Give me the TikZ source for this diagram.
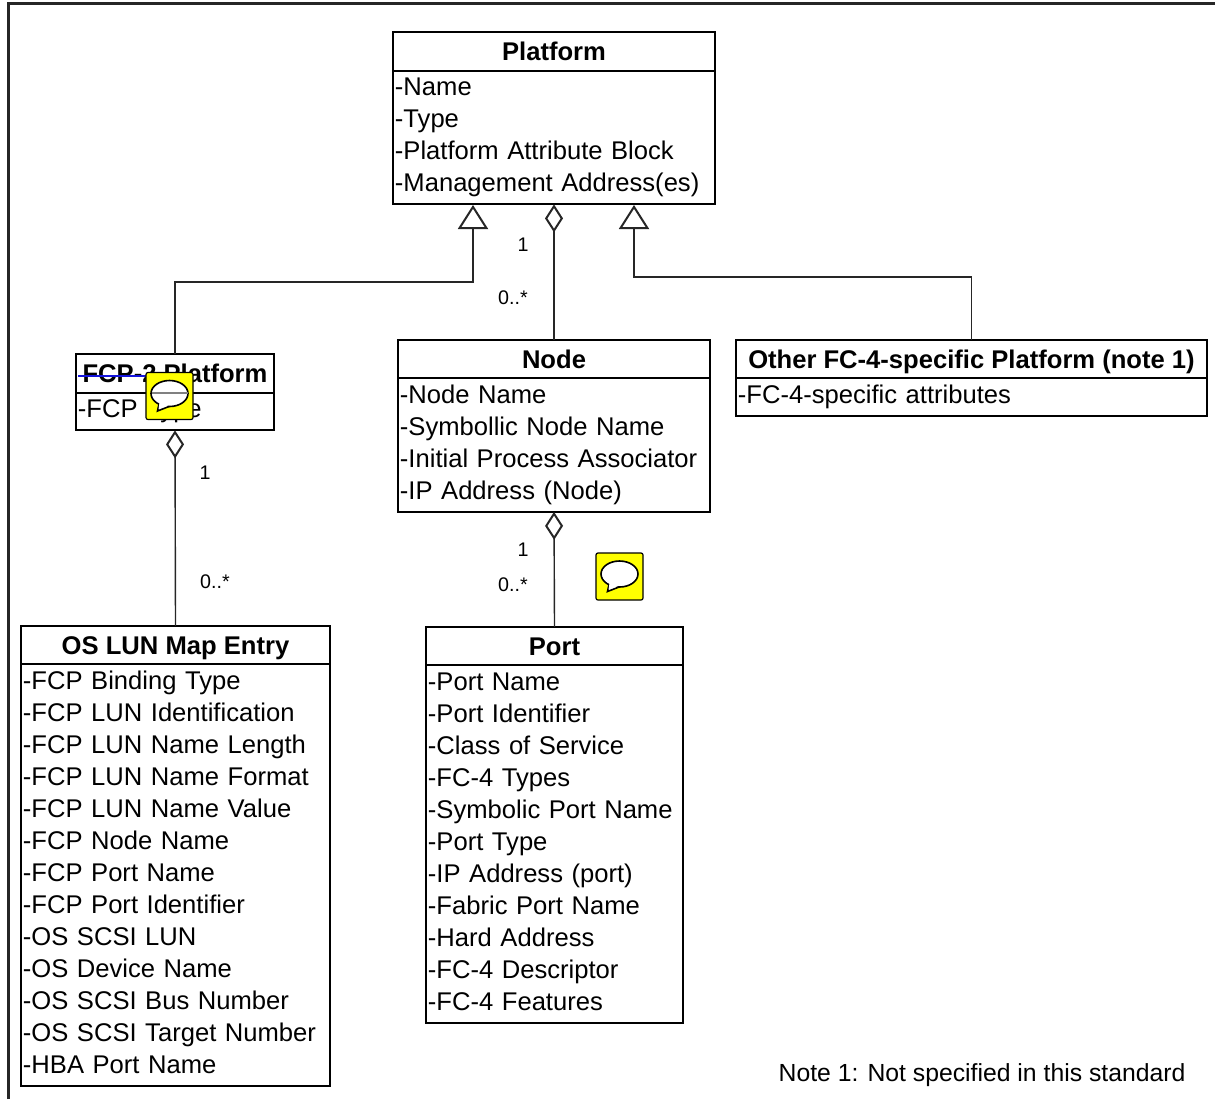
\documentclass[tikz,border=0pt]{standalone}
\usepackage{fontspec}
\setmainfont{Liberation Sans}
\usetikzlibrary{arrows.meta, positioning}
\definecolor{noteyellow}{RGB}{255, 255, 0}
\definecolor{strikeblue}{RGB}{20, 20, 220}
\newcommand{\classfont}{\fontsize{18.2}{22.76}\selectfont}
\newcommand{\labelfont}{\fontsize{14}{17}\selectfont}
\tikzset{
  classtitle/.style={draw, line width=0.05cm, outer sep=0pt, inner sep=0pt, minimum width=#1, minimum height=0.9625cm, text height=0.46cm, text depth=0pt, font=\classfont\bfseries},
  classbody/.style={draw, line width=0.05cm, outer sep=0pt, inner xsep=0.05cm, inner ysep=0.07cm, text width=#1, align=left, font=\classfont, execute at begin node=\strut, execute at end node=\strut},
  link/.style={line width=0.035cm, black!85},
  gentip/.style={link, {Triangle[open, fill=white, length=0.6cm, width=0.75cm, line width=0.05cm]}-},
  aggtip/.style={link, {Diamond[open, fill=white, length=0.7cm, width=0.45cm, line width=0.05cm]}-},
  multlabel/.style={font=\labelfont, inner sep=0pt},
  noteicon/.style={draw, fill=noteyellow, rounded corners=0.05cm, line width=0.03cm, minimum size=1.175cm, inner sep=0pt, outer sep=0pt},
  bubble/.style={draw, fill=white, line width=0.04cm},
}
\begin{document}
\begin{tikzpicture}[x=0.025cm, y=-0.025cm]
  \useasboundingbox (0, 0) rectangle (1215, 1099);

  % Outer frame
  \draw[line width=0.08cm, black!85] (8.5, 1099) -- (8.5, 3.5) -- (1215, 3.5);

  % Platform
  \node[classtitle=8.05cm] (platform) at (554, 51.5) {Platform};
  \node[classbody=7.95cm, below=0pt of platform] (platformattr) {-Name\\-Type\\-Platform Attribute Block\\-Management Address(es)};

  % Second row
  \node[classtitle=4.95cm] (fcp) at (175, 373.5) {FCP-2 Platform};
  \node[classbody=4.85cm, below=0pt of fcp] (fcpattr) {-FCP Type};

  \node[classtitle=7.8cm] (fcnode) at (554, 359) {Node};
  \node[classbody=7.7cm, below=0pt of fcnode] (fcnodeattr) {-Node Name\\-Symbollic Node Name\\-Initial Process Associator\\-IP Address (Node)};

  \node[classtitle=11.775cm] (other) at (971.5, 359) {Other FC-4-specific Platform (note 1)};
  \node[classbody=11.675cm, below=0pt of other] (otherattr) {-FC-4-specific attributes};

  % Third row
  \node[classtitle=7.725cm] (lunmap) at (175.5, 645) {OS LUN Map Entry};
  \node[classbody=7.625cm, below=0pt of lunmap] (lunmapattr) {-FCP Binding Type\\-FCP LUN Identification\\-FCP LUN Name Length\\-FCP LUN Name Format\\-FCP LUN Name Value\\-FCP Node Name\\-FCP Port Name\\-FCP Port Identifier\\-OS SCSI LUN\\-OS Device Name\\-OS SCSI Bus Number\\-OS SCSI Target Number\\-HBA Port Name};

  \node[classtitle=6.425cm] (port) at (554.5, 646) {Port};
  \node[classbody=6.325cm, below=0pt of port] (portattr) {-Port Name\\-Port Identifier\\-Class of Service\\-FC-4 Types\\-Symbolic Port Name\\-Port Type\\-IP Address (port)\\-Fabric Port Name\\-Hard Address\\-FC-4 Descriptor\\-FC-4 Features};

  % Connectors
  \coordinate (genfcp) at (473, 205);
  \coordinate (genother) at (634, 205);
  \coordinate (bendfcp) at (473, 282);
  \coordinate (bendother) at (634, 277);
  \draw[gentip] (genfcp) -- (bendfcp) -| (fcp.north);
  \draw[gentip] (genother) -- (bendother) -| (other.north);
  \draw[aggtip] (platformattr.south) -- (fcnode.north);
  \draw[aggtip] (fcpattr.south) -- (lunmap.north);
  \draw[aggtip] (fcnodeattr.south) -- (port.north);

  % Labels
  \node[multlabel] (plat1) at (523, 245) {1};
  \node[multlabel] (plat0) at (513, 298) {0..*};
  \node[multlabel] (fcp1) at (205, 473) {1};
  \node[multlabel] (fcp0) at (215, 582) {0..*};
  \node[multlabel] (node1) at (523, 550) {1};
  \node[multlabel] (node0) at (513, 585) {0..*};
  \node[font=\fontsize{17.6}{21}\selectfont, inner sep=0pt] (note) at (982, 1075) {Note 1: Not specified in this standard};

  % Strike through the title
  \draw[strikeblue, line width=0.035cm] (78, 376) -- (147, 376);

  % Note icons
  \node[noteicon] (iconfcp) at (169.5, 396) {};
  \draw[bubble] (169.5, 393.5) ellipse [x radius=18.5, y radius=13];
  \draw[gray, line width=0.05cm] (151.5, 393) -- (187.5, 393);
  \draw[bubble] (159, 404) -- (157.5, 411) -- (169, 406.5);
  \fill[white] (159.5, 402.5) -- (158.6, 409) -- (169, 405) -- (168, 402) -- cycle;

  \node[noteicon] (iconport) at (619.5, 576.5) {};
  \draw[bubble] (619.5, 574) ellipse [x radius=18.5, y radius=13];
  \draw[bubble] (609, 584.5) -- (607.5, 591.5) -- (619, 587);
  \fill[white] (609.5, 583) -- (608.6, 589.5) -- (619, 585.5) -- (618, 582.5) -- cycle;
\end{tikzpicture}
\end{document}
